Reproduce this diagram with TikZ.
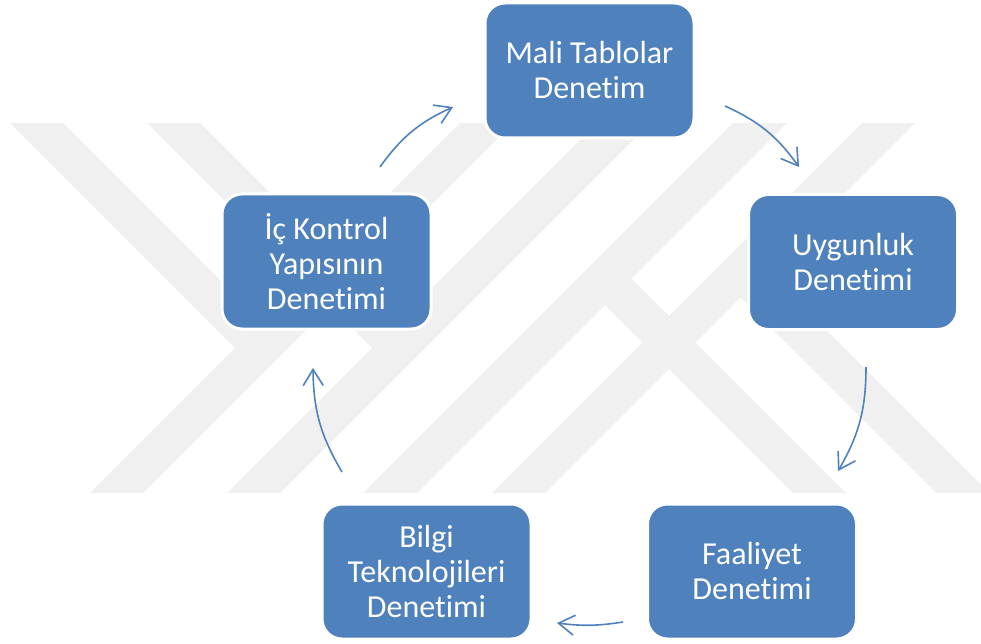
\documentclass[tikz,border=0pt]{standalone}
\usepackage{fontspec}
\setmainfont{Carlito}[Ligatures=NoCommon]
\usetikzlibrary{arrows.meta,positioning}
\definecolor{boxblue}{HTML}{4F81BD}
\definecolor{wmgray}{HTML}{F0F0F0}

\begin{document}
\begin{tikzpicture}[x=1pt, y=-1pt,
	> = {Straight Barb[length=16pt,width=20pt]}, % open arrow head
	wmark/.style={fill=wmgray},
	stage/.style={rounded corners=20pt, fill=boxblue, draw=white, line width=3pt,
		minimum width=209pt, minimum height=135pt, inner sep=0pt,
		align=center, text=white, font=\fontsize{32}{35}\selectfont},
	flow/.style={->, draw=boxblue, line width=1.6pt, bend left=15}]
	\useasboundingbox (0,0) rectangle (981,644);

	% watermark stripes
	\fill[wmark] (10,123) -- (63,123) -- (288,348) -- (235,348) -- cycle;
	\fill[wmark] (147,123) -- (200,123) -- (425,348) -- (372,348) -- cycle;
	\fill[wmark] (90,493) -- (143,493) -- (513,123) -- (460,123) -- cycle;
	\fill[wmark] (227,493) -- (280,493) -- (650,123) -- (597,123) -- cycle;
	\fill[wmark] (363,493) -- (417,493) -- (787,123) -- (733,123) -- cycle;
	\fill[wmark] (492,493) -- (545,493) -- (915,123) -- (862,123) -- cycle;
	\fill[wmark] (578,278) -- (631,278) -- (846,493) -- (793,493) -- cycle;
	\fill[wmark] (714,271) -- (767,271) -- (981,485) -- (981,493) -- (936,493) -- cycle;

	% stages
	\node[stage] (nMali)  at (589.5,70.5) {Mali Tablolar\\Denetim};
	\node[stage] (nUyg)   at (853,262)    {Uygunluk\\Denetimi};
	\node[stage] (nFaal)  at (752,571.5)  {Faaliyet\\Denetimi};
	\node[stage] (nBilgi) at (426.5,571.5) {Bilgi\\Teknolojileri\\Denetimi};
	\node[stage] (nIc)    at (326.5,261.5) {İç Kontrol\\Yapısının\\Denetimi};

	% arrow ends
	\coordinate (a1s) at (380,167);
	\coordinate (a1e) at (453,107);
	\coordinate (a2s) at (725,106);
	\coordinate (a2e) at (799,167);
	\coordinate (a3s) at (866,367);
	\coordinate (a3e) at (838,471);
	\coordinate (a4s) at (623,622);
	\coordinate (a4e) at (557,623);
	\coordinate (a5s) at (342,472);
	\coordinate (a5e) at (313,368);

	\draw[flow] (a1s) to (a1e);
	\draw[flow] (a2s) to (a2e);
	\draw[flow] (a3s) to (a3e);
	\draw[flow, bend left=8] (a4s) to (a4e);
	\draw[flow] (a5s) to (a5e);

\end{tikzpicture}
\end{document}
